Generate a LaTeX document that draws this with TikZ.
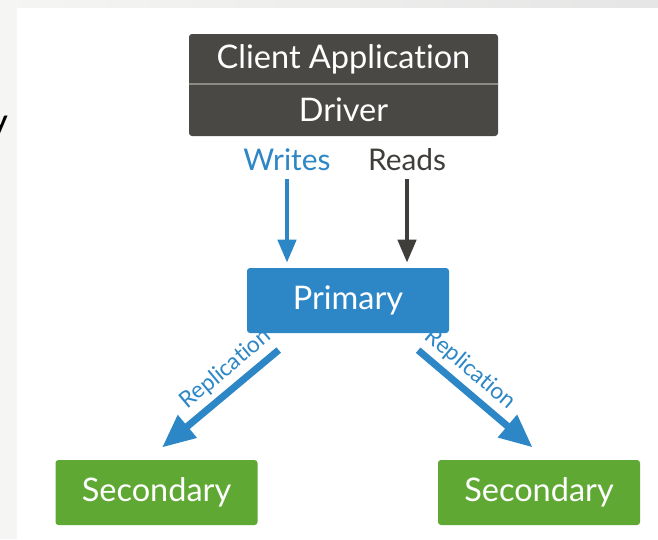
\documentclass[tikz,border=0pt]{standalone}
\usepackage{fontspec}
\setmainfont{Lato}[Ligatures=NoCommon]
\usetikzlibrary{arrows.meta}
\newcommand{\unit}{0.02cm}
\definecolor{stackgray}{HTML}{4A4844}
\definecolor{dividergray}{HTML}{8C8A85}
\definecolor{readgray}{HTML}{403E3B}
\definecolor{primblue}{HTML}{2D87C6}
\definecolor{secgreen}{HTML}{5FA833}
\definecolor{pagegray}{HTML}{F5F5F3}

\begin{document}
\begin{tikzpicture}[x=\unit, y=-\unit, font=\fontsize{18.5}{20}\selectfont,
  box/.style={rounded corners=3*\unit, text=white, inner sep=0pt},
  thinarrow/.style={line width=4.5*\unit, -{Triangle[width=18*\unit, length=23*\unit]}},
  reparrow/.style={line width=7*\unit, draw=primblue, -{Triangle[width=28*\unit, length=33*\unit]}},
  replabel/.style={midway, sloped, above, pos=0.4, text=primblue, inner sep=3pt, font=\fontsize{13}{14}\selectfont}]

% page and frame
\fill[pagegray] (0,0) rectangle (658,539);
\shade[left color=pagegray, right color=black!10] (0,0) rectangle (658,8);
\fill[white] (17,8) rectangle (658,539);
\useasboundingbox (0,0) rectangle (658,539);
\node[anchor=base east, inner sep=0pt, font=\fontsize{16}{18}\selectfont\bfseries] (cut) at (8,130) {y};

% client stack
\node[box, fill=stackgray, minimum width=309*\unit, minimum height=102*\unit] (stack) at (343.5,85) {};
\node[text=white] (client) at (343.5,59) {Client Application};
\node[text=white] (driver) at (343.5,110) {Driver};
\draw[dividergray, line width=1.5*\unit] (stack.west |- 0,84) -- (stack.east |- 0,84);

% primary and secondaries
\node[box, fill=primblue, minimum width=202*\unit, minimum height=65*\unit] (primary) at (348,300.5) {Primary};
\foreach \name/\x in {secL/156.5, secR/539} {
\node[box, fill=secgreen, minimum width=202*\unit, minimum height=65*\unit] (\name) at (\x,492.5) {Secondary};
}

% reads and writes
\node[text=primblue, font=\fontsize{17}{18}\selectfont] (writes) at (287,160) {Writes};
\node[text=readgray, font=\fontsize{17}{18}\selectfont] (reads) at (407,160) {Reads};
\draw[thinarrow, draw=primblue] ([yshift=-2*\unit]writes.south) -- (writes.south |- primary.north) [shorten >=5*\unit];
\draw[thinarrow, draw=readgray] ([yshift=-2*\unit]reads.south) -- (reads.south |- primary.north) [shorten >=5*\unit];

% replication
\draw[reparrow, shorten <=26*\unit, shorten >=19*\unit] ([xshift=52*\unit]primary.south west) -- ([xshift=-9*\unit]secL.north) node[replabel] {Replication};
\draw[reparrow, shorten <=26*\unit, shorten >=19*\unit] ([xshift=-51*\unit]primary.south east) -- ([xshift=8*\unit]secR.north) node[replabel] {Replication};

\end{tikzpicture}
\end{document}
